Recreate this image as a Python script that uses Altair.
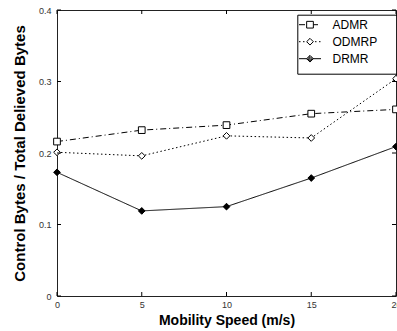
import altair as alt
import pandas as pd

speed = [0, 5, 10, 15, 20]
series_names = ["ADMR", "ODMRP", "DRMR"]
admr = [0.216, 0.232, 0.239, 0.255, 0.261]
odmrp = [0.201, 0.196, 0.224, 0.221, 0.304]
drmr = [0.173, 0.119, 0.125, 0.165, 0.209]
x_ticks = [0, 5, 10, 15, 20]
y_ticks = [0, 0.1, 0.2, 0.3, 0.4]

x_title = "Mobility Speed (m/s)"
y_title = "Control Bytes / Total Delieved Bytes"

rows = []
for name, vals in zip(series_names, [admr, odmrp, drmr]):
    for s, v in zip(speed, vals):
        rows.append({"speed": s, "value": v, "series": name, "marker": name})
df = pd.DataFrame(rows)
xt = pd.DataFrame({"speed": x_ticks})
yt = pd.DataFrame({"value": y_ticks})

W, H = 339, 286
FONT = "Liberation Sans"
xscale = alt.Scale(domain=[0, 20], nice=False, zero=False)
yscale = alt.Scale(domain=[0, 0.4], nice=False, zero=False)

x_axis = alt.Axis(values=x_ticks, title=x_title, ticks=False, domain=False, grid=False,
                  labelFont=FONT, labelFontSize=9, labelColor="#333", labelPadding=4,
                  labelFlush=False, titleFont=FONT, titleFontSize=14, titleFontWeight="bold",
                  titleColor="black", titlePadding=4)
y_axis = alt.Axis(values=y_ticks, title=y_title, format="~g", ticks=False, domain=False,
                  grid=False, labelFont=FONT, labelFontSize=9, labelColor="#333",
                  labelPadding=6, labelFlush=False, titleFont=FONT, titleFontSize=15,
                  titleFontWeight="bold", titleColor="black", titlePadding=11)

X = alt.X("speed:Q", scale=xscale, axis=x_axis)
Y = alt.Y("value:Q", scale=yscale, axis=y_axis)

leg_lines = alt.Legend(title=None, orient="none", legendX=241.5, legendY=9.2,
                       symbolType="stroke", symbolSize=484, symbolStrokeWidth=1,
                       symbolStrokeColor="black", clipHeight=11, rowPadding=4, padding=0,
                       labelOffset=11, labelFont=FONT, labelFontSize=12, labelColor="black")

leg_marks = alt.Legend(title=".", titleOrient="bottom", titleColor="transparent",
                       titleFontSize=4, titlePadding=0, orient="none", legendX=240.3,
                       legendY=4.7, padding=4.5, clipHeight=11, rowPadding=4,
                       symbolStrokeColor="black", symbolFillColor="white",
                       symbolStrokeWidth=1, symbolSize=45,
                       symbolOffset=2.2, labelExpr="''", labelFont=FONT,
                       labelFontSize=12, labelOffset=76, strokeColor="black")

filled_diamond = ("M0,-1L1,0L0,1L-1,0Z M0,-0.65L0.65,0L0,0.65L-0.65,0Z "
                  "M0,-0.3L0.3,0L0,0.3L-0.3,0Z")

lines = alt.Chart(df).mark_line(color="black", strokeWidth=1).encode(
    x=X, y=Y,
    strokeDash=alt.StrokeDash("series:N",
                              scale=alt.Scale(domain=series_names,
                                              range=[[6, 3, 1, 3], [1.5, 2.5], [1, 0]]),
                              legend=leg_lines),
)

# marker legend: data-derived domain (sorted in series order) so it stays a separate legend
points = alt.Chart(df).mark_point(filled=False, color="black", strokeWidth=1, size=45,
                                  opacity=1).encode(
    x=X, y=Y,
    shape=alt.Shape("marker:N", sort=series_names,
                    scale=alt.Scale(range=["square", "diamond", filled_diamond]),
                    legend=leg_marks),
    fill=alt.Fill("marker:N", sort=series_names,
                  scale=alt.Scale(range=["white", "white", "black"]),
                  legend=None),
)

tick_b = alt.Chart(xt).mark_rule(color="black", strokeWidth=1).encode(
    x=X, y=alt.value(H), y2=alt.value(H - 4))
tick_t = alt.Chart(xt).mark_rule(color="black", strokeWidth=1).encode(
    x=X, y=alt.value(0), y2=alt.value(4))
tick_l = alt.Chart(yt).mark_rule(color="black", strokeWidth=1).encode(
    y=Y, x=alt.value(0), x2=alt.value(4))
tick_r = alt.Chart(yt).mark_rule(color="black", strokeWidth=1).encode(
    y=Y, x=alt.value(W - 4), x2=alt.value(W))

chart = alt.layer(lines, points, tick_b, tick_t, tick_l, tick_r).properties(
    width=W, height=H,
    padding={"left": 57, "top": 10, "right": 1, "bottom": 35},
    autosize=alt.AutoSizeParams(type="none"),
    background="white",
).configure_view(stroke="#222", strokeWidth=1)

chart.save("out.html", embed_options={"renderer": "svg", "actions": False})
